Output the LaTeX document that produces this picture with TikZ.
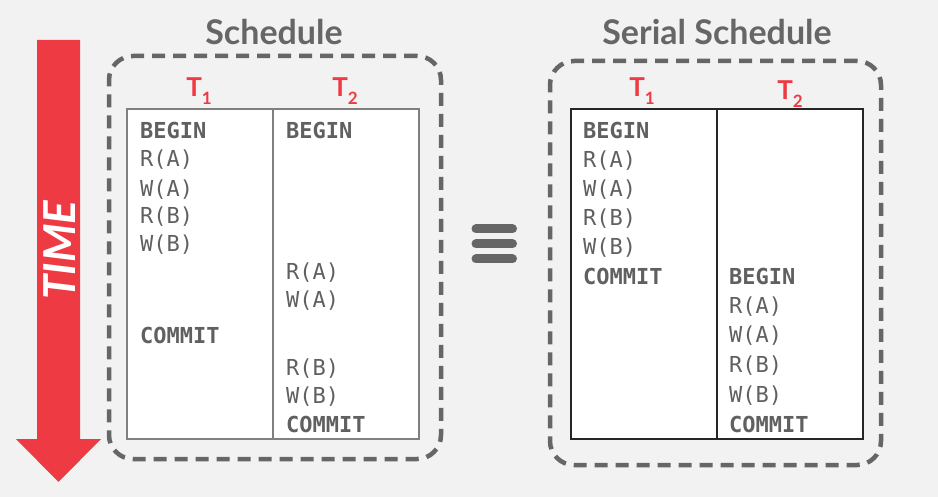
\documentclass[tikz,border=0pt]{standalone}
\usepackage{fontspec}
\setsansfont{Lato}
\setmonofont{DejaVu Sans Mono}
\usepackage{xcolor}
\usepackage{tikz}
\usetikzlibrary{positioning}
\definecolor{pagebg}{HTML}{F2F2F2}
\definecolor{framegray}{HTML}{666666}
\definecolor{inkgray}{HTML}{606060}
\definecolor{timered}{HTML}{EE3B43}
\newcommand{\txnlabel}[1]{T\raisebox{-8pt}{\fontsize{17}{17}\selectfont #1}}

\begin{document}
\begin{tikzpicture}[
 x=1pt,y=-1pt,
 frame/.style={draw=framegray,line width=4.5pt,dash pattern=on 13pt off 8pt,rounded corners=24pt,inner sep=0pt},
 grid/.style={draw=#1,line width=1.3pt,fill=white,minimum width=292pt,minimum height=330pt,inner sep=0pt},
 heading/.style={font=\sffamily\bfseries\fontsize{34}{40}\selectfont,text=framegray,anchor=base,inner sep=0pt},
 txn/.style={font=\sffamily\bfseries\fontsize{26}{30}\selectfont,text=timered,anchor=base,inner sep=0pt},
 op/.style={font=\ttfamily\fontsize{22}{26}\selectfont,text=inkgray,anchor=base west,inner sep=0pt},
 kw/.style={op,font=\ttfamily\bfseries\fontsize{22}{26}\selectfont},
 eqbar/.style={draw=framegray,line width=9pt,line cap=round},
]
\fill[pagebg] (0,0) rectangle (938,497);
\useasboundingbox (0,0) rectangle (938,497);

\fill[timered] (37,40) -- (80,40) -- (80,439) -- (101,439) -- (58.5,482) -- (16,439) -- (37,439) -- cycle;
\node[font=\sffamily\bfseries\itshape\fontsize{44}{48}\selectfont,text=white,rotate=90,inner sep=0pt] (time) at (60,250) {TIME};

\node[heading] (sched) at (274,45) {Schedule};
\node[frame,minimum width=332pt,minimum height=403pt] (lframe) at (275,257.5) {};
\node[grid=black!50] (ltab) at (273,274) {};
\draw[black!50,line width=1.3pt] (ltab.north) -- (ltab.south);
\node[txn] (lt1) at (199,97) {\txnlabel{1}};
\node[txn] (lt2) at (345,97) {\txnlabel{2}};

\node[kw] (la1) at (140,139) {BEGIN};
\node[op] (la2) at (140,167) {R(A)};
\node[op] (la3) at (140,197) {W(A)};
\node[op] (la4) at (140,224) {R(B)};
\node[op] (la5) at (140,252) {W(B)};
\node[kw] (la6) at (140,344) {COMMIT};
\node[kw] (lb1) at (286,139) {BEGIN};
\node[op] (lb2) at (286,280) {R(A)};
\node[op] (lb3) at (286,308) {W(A)};
\node[op] (lb4) at (286,375) {R(B)};
\node[op] (lb5) at (286,403) {W(B)};
\node[kw] (lb6) at (286,432) {COMMIT};

\foreach \y in {229,244,259}
 \draw[eqbar] (476,\y) -- (512.5,\y);

\node[heading] (serial) at (717,45) {Serial Schedule};
\node[frame,minimum width=331pt,minimum height=404pt] (rframe) at (715.5,263) {};
\node[grid=black!85] (rtab) at (717,274) {};
\draw[black!85,line width=1.3pt] (rtab.north) -- (rtab.south);
\node[txn] (rt1) at (642,97) {\txnlabel{1}};
\node[txn] (rt2) at (790,100) {\txnlabel{2}};

\node[kw] (ra1) at (583,139) {BEGIN};
\node[op] (ra2) at (583,168) {R(A)};
\node[op] (ra3) at (583,197) {W(A)};
\node[op] (ra4) at (583,226) {R(B)};
\node[op] (ra5) at (583,255) {W(B)};
\node[kw] (ra6) at (583,285) {COMMIT};
\node[kw] (rb1) at (729,285) {BEGIN};
\node[op] (rb2) at (729,314) {R(A)};
\node[op] (rb3) at (729,343) {W(A)};
\node[op] (rb4) at (729,372) {R(B)};
\node[op] (rb5) at (729,402) {W(B)};
\node[kw] (rb6) at (729,432) {COMMIT};
\end{tikzpicture}
\end{document}
